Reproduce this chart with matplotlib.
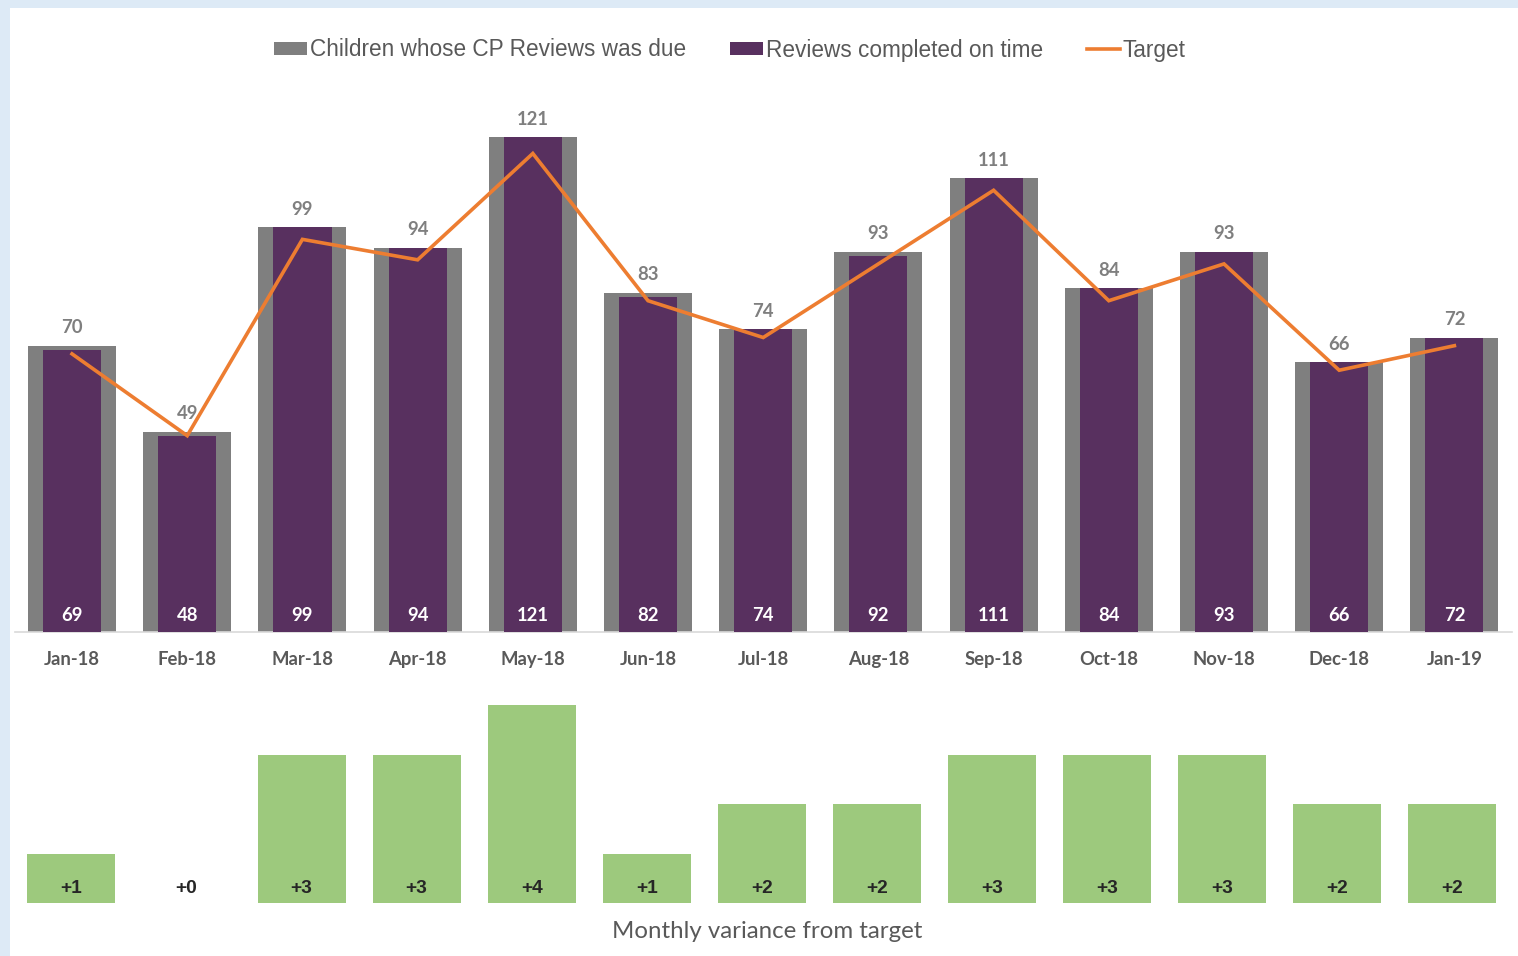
import matplotlib
matplotlib.use("Agg")
import matplotlib.pyplot as plt
from matplotlib.patches import Rectangle, Patch
from matplotlib.lines import Line2D
import numpy as np

months = ["Jan-18", "Feb-18", "Mar-18", "Apr-18", "May-18", "Jun-18", "Jul-18",
          "Aug-18", "Sep-18", "Oct-18", "Nov-18", "Dec-18", "Jan-19"]
due = [70, 49, 99, 94, 121, 83, 74, 93, 111, 84, 93, 66, 72]
completed = [69, 48, 99, 94, 121, 82, 74, 92, 111, 84, 93, 66, 72]
variance = [1, 0, 3, 3, 4, 1, 2, 2, 3, 3, 3, 2, 2]
target = [c - v for c, v in zip(completed, variance)]

GRAY = "#7f7f7f"
PURPLE = "#58305f"
ORANGE = "#ed7d31"
GREEN = "#9dc97d"
TXT = "#595959"

W, H = 1518, 956
fig = plt.figure(figsize=(W / 100, H / 100), dpi=100)
fig.patch.set_facecolor("#ddeaf6")
bg = Rectangle((10 / W, 0), 1 - 10 / W, 1 - 8 / H, transform=fig.transFigure,
               facecolor="white", edgecolor="none", zorder=-10)
fig.add_artist(bg)

x = np.arange(len(months))
xl = (-0.495, 12.5)

# Main axes
y0, ytop_val, ypx_per = 632, 140, 4.09
ax_top = y0 - ytop_val * ypx_per
ax = fig.add_axes([15 / W, 1 - y0 / H, (1512 - 15) / W, (y0 - ax_top) / H])
ax.set_facecolor("none")
ax.bar(x, due, width=0.765, color=GRAY, zorder=2)
ax.bar(x, completed, width=0.505, color=PURPLE, zorder=3)
ax.plot(x, target, color=ORANGE, lw=2.6, zorder=4, solid_joinstyle="miter")
ax.set_xlim(*xl)
ax.set_ylim(0, ytop_val)
for s in ["top", "right", "left"]:
    ax.spines[s].set_visible(False)
ax.spines["bottom"].set_color("#d9d9d9")
ax.spines["bottom"].set_linewidth(1.2)
ax.set_yticks([])
ax.set_xticks(x)
ax.set_xticklabels(months, fontfamily="Lato", fontweight="bold", fontsize=13.3, color=TXT)
ax.tick_params(axis="x", length=0, pad=14)
for xi, d, c in zip(x, due, completed):
    ax.annotate(str(d), (xi, d), xytext=(0, 12.8), textcoords="offset points",
                ha="center", va="center", fontfamily="Lato", fontweight="bold",
                fontsize=13.3, color=GRAY, zorder=5)
    ax.annotate(str(c), (xi, 0), xytext=(0, 11.8), textcoords="offset points",
                ha="center", va="center", fontfamily="Lato", fontweight="bold",
                fontsize=13.3, color="white", zorder=5)

# Variance axes
vb, vpx = 903, 49.5
vtop_val = 5
ax2 = fig.add_axes([15 / W, 1 - vb / H, (1512 - 15) / W, vtop_val * vpx / H])
ax2.set_facecolor("none")
ax2.bar(x, variance, width=0.765, color=GREEN, zorder=2)
ax2.set_xlim(-0.491, 12.522)
ax2.set_ylim(0, vtop_val)
ax2.axis("off")
for xi, v in zip(x, variance):
    ax2.annotate(f"+{v}", (xi, 0), xytext=(0, 10.6), textcoords="offset points",
                 ha="center", va="center", fontfamily="Liberation Sans",
                 fontweight="bold", fontsize=13.8, color="#262626", zorder=5)
fig.text(767 / W, 1 - 932 / H, "Monthly variance from target", ha="center", va="center",
         fontfamily="Lato", fontsize=17.3, color=TXT)

# Legend
handles = [Patch(facecolor=GRAY, edgecolor="none"),
           Patch(facecolor=PURPLE, edgecolor="none"),
           Line2D([0], [0], color=ORANGE, lw=2.6)]
labels = ["Children whose CP Reviews was due", "Reviews completed on time", "Target"]
fig.legend(handles, labels, loc="center", bbox_to_anchor=(730 / W, 1 - 50 / H), ncol=3,
           frameon=False, prop={"family": "Liberation Sans", "size": 16.3},
           labelcolor=TXT, handlelength=1.45, handleheight=0.5, handletextpad=0.12,
           columnspacing=1.95, borderpad=0)

fig.savefig("out.png", dpi=100, facecolor=fig.get_facecolor())
